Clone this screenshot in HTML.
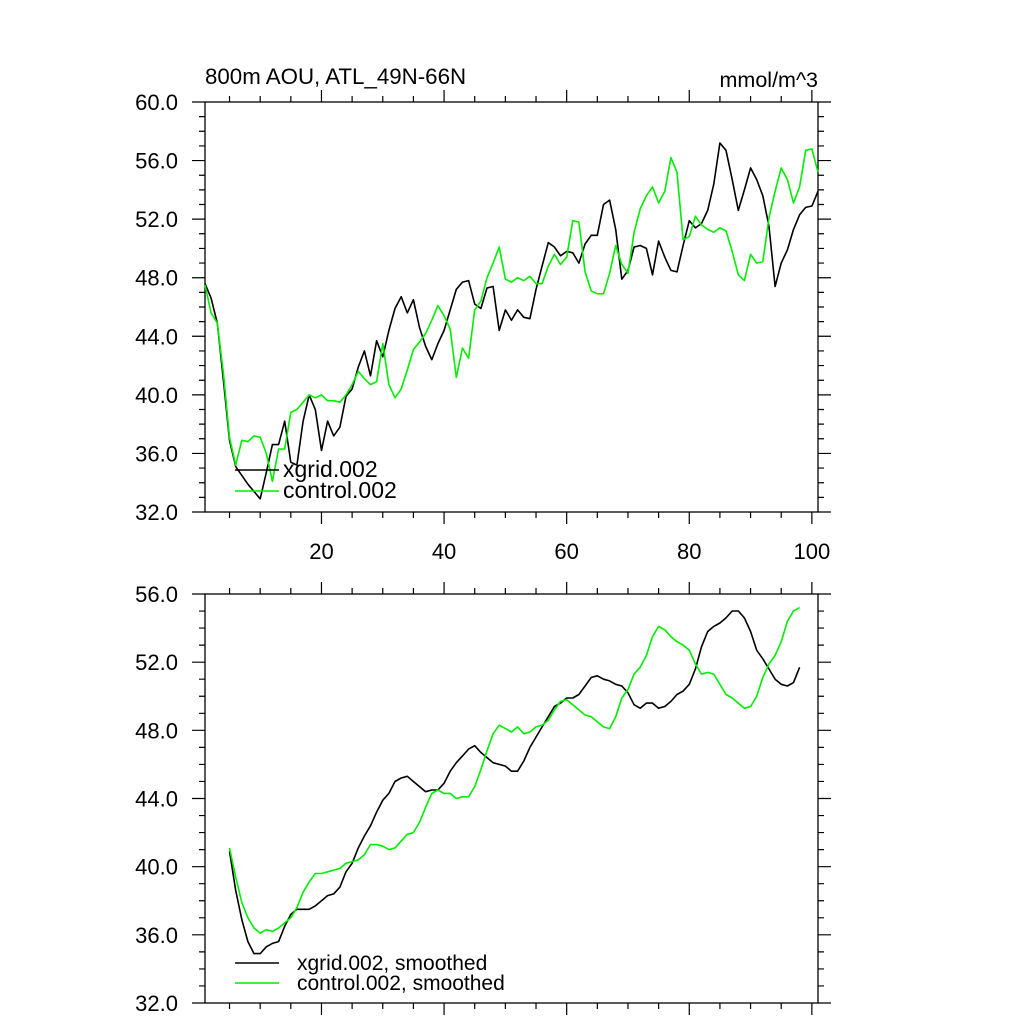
<!DOCTYPE html>
<html><head><meta charset="utf-8"><style>
html,body{margin:0;padding:0;background:#fff;}
svg{display:block;font-family:"Liberation Sans",sans-serif;}
</style></head><body>
<svg id="chart" width="1024" height="1024" viewBox="0 0 1024 1024">
<text x="205" y="84" font-size="22.3">800m AOU, ATL_49N-66N</text>
<text x="818" y="87" font-size="21.5" text-anchor="end">mmol/m^3</text>
<g id="top"></g>
<g id="bot"></g>
</svg>
<script>
const topBlack = [47.6,46.6,44.9,41.0,36.9,35.1,34.5,33.9,33.4,32.9,34.7,36.6,36.6,38.2,35.4,35.2,38.2,40.0,39.0,36.2,38.2,37.2,37.8,39.9,40.4,41.9,43.0,41.3,43.7,42.6,44.4,45.9,46.7,45.6,46.5,44.6,43.3,42.4,43.5,44.4,45.8,47.2,47.7,47.8,46.2,45.9,47.3,47.4,44.4,45.8,45.1,45.8,45.3,45.2,47.2,48.8,50.4,50.1,49.5,49.8,49.7,49.0,50.3,50.9,50.9,53.0,53.3,51.3,47.9,48.5,50.1,50.2,50.0,48.2,50.5,49.4,48.5,48.4,50.2,51.9,51.4,51.7,52.6,54.4,57.2,56.7,54.7,52.6,54.0,55.5,54.7,53.6,51.5,47.4,49.0,49.9,51.3,52.3,52.8,52.9,53.9];
const topGreen = [47.5,45.6,44.9,41.5,37.1,35.2,36.9,36.8,37.2,37.1,36.0,34.1,36.3,36.3,38.8,39.0,39.5,40.0,39.8,40.0,39.6,39.6,39.5,40.0,40.7,41.6,41.1,40.7,40.9,43.5,40.7,39.8,40.4,41.7,43.1,43.6,44.2,45.1,46.1,45.4,44.5,41.2,43.2,42.5,45.8,46.4,48.0,49.0,50.1,47.9,47.7,48.0,47.8,48.1,47.6,47.6,48.8,49.6,48.9,49.4,51.9,51.8,48.4,47.1,46.9,46.9,48.3,50.2,48.9,48.3,51.1,52.7,53.6,54.2,53.1,53.9,56.2,55.2,50.6,50.8,52.2,51.6,51.3,51.1,51.4,51.2,49.8,48.2,47.8,49.6,49.0,49.1,52.1,53.9,55.5,54.7,53.1,54.2,56.7,56.8,55.2];
const smoothStart = 5;
const botBlack = [40.9,38.6,36.9,35.6,34.9,34.9,35.3,35.5,35.6,36.5,37.2,37.5,37.5,37.5,37.7,38.0,38.3,38.4,38.8,39.7,40.2,41.1,41.8,42.4,43.2,43.9,44.3,45.0,45.2,45.3,45.0,44.7,44.4,44.5,44.5,44.9,45.6,46.1,46.5,46.9,47.1,46.7,46.4,46.1,46.0,45.9,45.6,45.6,46.2,47.0,47.6,48.2,48.8,49.4,49.6,49.9,49.9,50.1,50.6,51.1,51.2,51.0,50.9,50.7,50.6,50.2,49.5,49.3,49.6,49.6,49.3,49.4,49.7,50.1,50.3,50.7,51.6,52.9,53.8,54.1,54.3,54.6,55.0,55.0,54.6,53.8,52.7,52.2,51.6,51.0,50.7,50.6,50.8,51.7];
const botGreen = [41.1,39.4,37.9,37.0,36.4,36.1,36.3,36.2,36.4,36.7,37.0,37.6,38.5,39.1,39.6,39.6,39.7,39.8,39.9,40.2,40.3,40.4,40.7,41.3,41.3,41.2,41.0,41.1,41.5,41.9,42.0,42.6,43.5,44.3,44.5,44.3,44.3,44.0,44.1,44.1,44.7,45.7,46.8,47.8,48.3,48.1,47.9,48.2,47.8,47.9,48.2,48.3,48.6,49.2,49.7,49.8,49.5,49.2,48.9,48.8,48.5,48.2,48.1,48.8,49.9,50.4,51.3,51.7,52.4,53.5,54.1,53.9,53.5,53.2,53.0,52.7,51.9,51.3,51.4,51.3,50.7,50.1,49.9,49.6,49.3,49.4,50.0,51.1,51.9,52.4,53.2,54.4,55.0,55.2];
const xTicks = [20,40,60,80,100];
const topYTicks = [32,36,40,44,48,52,56,60];
const botYTicks = [32,36,40,44,48,52,56];

const NS="http://www.w3.org/2000/svg";
const X0=205,X1=818;
function xs(v){return X0+(v-1)*6.13;}
function mk(tag,parent,attrs){const e=document.createElementNS(NS,tag);for(const k in attrs)e.setAttribute(k,attrs[k]);parent.appendChild(e);return e;}

function panel(g,top,bottom,ymin,ymax,yTicks,labelsX,series,legend,legFont){
  const ys=v=>bottom-(v-ymin)/(ymax-ymin)*(bottom-top);
  const box=mk('rect',g,{x:X0,y:top,width:X1-X0,height:bottom-top,fill:'none',stroke:'#000','stroke-width':1.3});
  
  
  let d='';
  for(let v=0;v<=105;v+=5){const x=xs(v);if(x<X0-0.5||x>X1+0.5)continue;const L=(v%20===0)?12:6;
    d+=`M${x} ${bottom}v${L}M${x} ${top}v${-L}`;}
  for(let v=ymin;v<=ymax;v+=1){const y=ys(v);const L=(v%4===0)?13:6;d+=`M${X0} ${y}h${-L}M${X1} ${y}h${L}`;}
  const t=mk('path',g,{d:d,stroke:'#000','stroke-width':1.2,fill:'none'});
  
  
  yTicks.forEach(v=>{const e=mk('text',g,{x:178,y:ys(v)+8,'font-size':22,'text-anchor':'end'});e.textContent=v.toFixed(1);
    
    });
  if(labelsX)xTicks.forEach(v=>{const e=mk('text',g,{x:xs(v),y:bottom+47,'font-size':22,'text-anchor':'middle'});e.textContent=v;
    
    });
  series.forEach(s=>{const pts=s.data.map((v,i)=>xs(s.start+i).toFixed(1)+','+ys(v).toFixed(1)).join(' ');
    const p=mk('polyline',g,{points:pts,fill:'none',stroke:s.color,'stroke-width':1.6,'stroke-linejoin':'round'});
    
    });
  legend.forEach(l=>{mk('line',g,{x1:235,x2:279,y1:l.y,y2:l.y,stroke:l.color,'stroke-width':1.6});
    const e=mk('text',g,{x:l.tx,y:l.y+7,'font-size':legFont});e.textContent=l.label;
    
    });
}
panel(document.getElementById('top'),102,512,32,60,topYTicks,true,
  [{data:topBlack,start:1,color:'#000',name:'xgrid-line'},{data:topGreen,start:1,color:'#00ee00',name:'control-line'}],
  [{y:470,color:'#000',label:'xgrid.002',tx:283},{y:491,color:'#00ee00',label:'control.002',tx:283}],23);
panel(document.getElementById('bot'),594,1003,32,56,botYTicks,false,
  [{data:botBlack,start:smoothStart,color:'#000',name:'xgrid-smoothed-line'},{data:botGreen,start:smoothStart,color:'#00ee00',name:'control-smoothed-line'}],
  [{y:963,color:'#000',label:'xgrid.002, smoothed',tx:297},{y:983,color:'#00ee00',label:'control.002, smoothed',tx:297}],21);
</script>
</body></html>
